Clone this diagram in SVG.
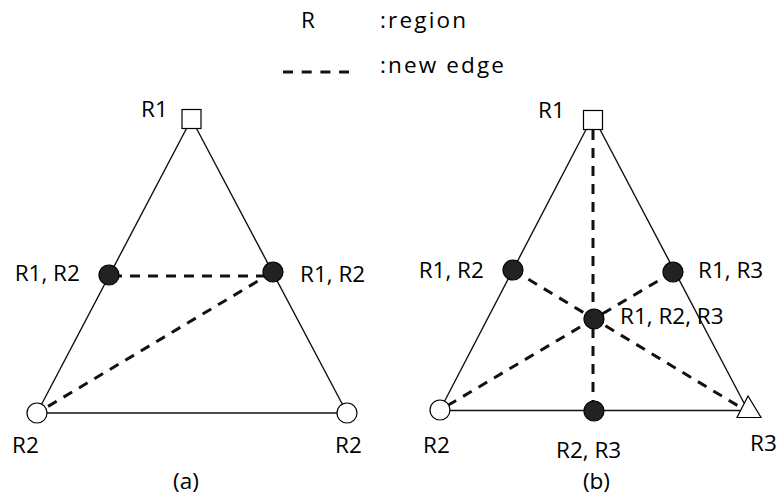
<svg xmlns="http://www.w3.org/2000/svg" width="783" height="499" viewBox="0 0 783 499">
<style>
text{font-family:"Open Sans","DejaVu Sans",sans-serif;font-size:22.5px;fill:#000}
.s{stroke:#111;stroke-width:1.4;fill:none}
.d{stroke:#111;stroke-width:3;fill:none;stroke-dasharray:10 8}
.f{fill:#222;stroke:#000;stroke-width:1.2}
.o{fill:#fff;stroke:#000;stroke-width:1.2}
</style>
<rect width="783" height="499" fill="#fff"/>
<g id="legend">
<text x="301" y="28">R</text>
<text x="380" y="28" textLength="86" lengthAdjust="spacing">:region</text>
<line class="d" x1="283" y1="72" x2="349" y2="72" style="stroke-dasharray:10 8.7"/>
<text x="380" y="73" textLength="124" lengthAdjust="spacing">:new edge</text>
</g>
<g id="connectors">
<line class="s" x1="191.5" y1="119" x2="37" y2="413"/>
<line class="s" x1="191.5" y1="119" x2="347" y2="413"/>
<line class="s" x1="37" y1="413" x2="347" y2="413"/>
<line class="d" x1="112" y1="276" x2="273" y2="276"/>
<line class="d" x1="273" y1="272" x2="37" y2="413"/>
<line class="s" x1="591" y1="120" x2="440" y2="410"/>
<line class="s" x1="595" y1="120" x2="744" y2="403"/>
<line class="s" x1="440" y1="410.5" x2="748" y2="410.5"/>
<line class="d" x1="593" y1="130" x2="593" y2="411"/>
<line class="d" x1="513" y1="270" x2="740" y2="407"/>
<line class="d" x1="673" y1="272" x2="440" y2="410"/>
</g>
<g id="a-r1"><rect class="o" x="182" y="109.5" width="19" height="19"/><text x="141" y="117">R1</text></g>
<g id="a-r12-left"><circle class="f" cx="109" cy="275" r="10"/><text x="14.7" y="281">R1, R2</text></g>
<g id="a-r12-right"><circle class="f" cx="273" cy="272" r="10"/><text x="300" y="281.5">R1, R2</text></g>
<g id="a-r2-left"><circle class="o" cx="37" cy="413" r="10"/><text x="12" y="453">R2</text></g>
<g id="a-r2-right"><circle class="o" cx="347" cy="413" r="10"/><text x="335" y="453">R2</text></g>
<g id="a-caption"><text x="186" y="489" text-anchor="middle">(a)</text></g>
<g id="b-r1"><rect class="o" x="583.5" y="110.5" width="19" height="19"/><text x="538" y="118">R1</text></g>
<g id="b-r12"><circle class="f" cx="513" cy="270" r="10"/><text x="418.7" y="278">R1, R2</text></g>
<g id="b-r13"><circle class="f" cx="673" cy="272" r="10"/><text x="698" y="278">R1, R3</text></g>
<g id="b-r123"><circle class="f" cx="594" cy="319" r="10"/><text x="620" y="324">R1, R2, R3</text></g>
<g id="b-r2"><circle class="o" cx="440" cy="410" r="10"/><text x="423" y="453">R2</text></g>
<g id="b-r23"><circle class="f" cx="594" cy="411" r="10"/><text x="556" y="457.5">R2, R3</text></g>
<g id="b-r3"><polygon class="o" points="748,396 737,417.5 761,417.5"/><text x="750" y="451">R3</text></g>
<g id="b-caption"><text x="596.5" y="489" text-anchor="middle">(b)</text></g>
</svg>
